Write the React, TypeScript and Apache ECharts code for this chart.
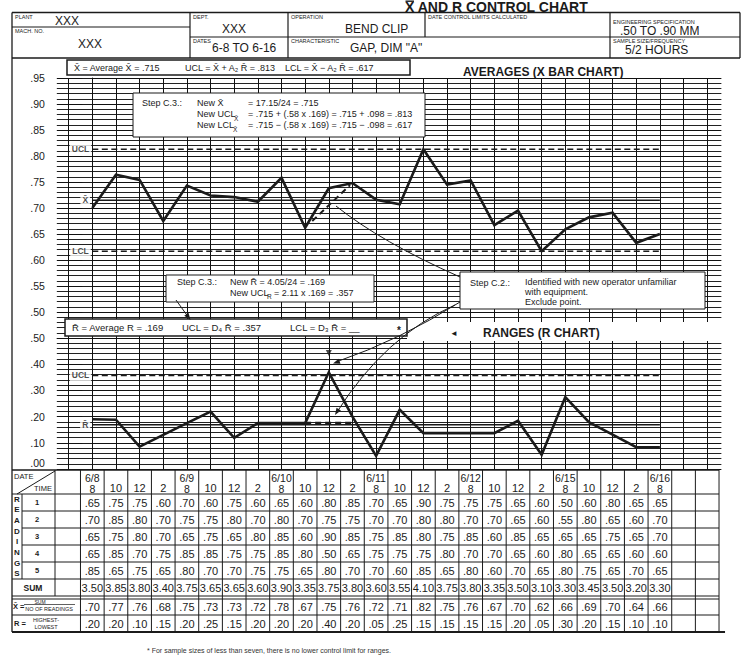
import React, { useEffect, useRef } from 'react';
import * as echarts from 'echarts';

// ---------------- DATA ----------------
const dates = ['6/8', '', '', '', '6/9', '', '', '', '6/10', '', '', '', '6/11', '', '', '', '6/12', '', '', '', '6/15', '', '', '', '6/16'];
const times = ['8', '10', '12', '2', '8', '10', '12', '2', '8', '10', '12', '2', '8', '10', '12', '2', '8', '10', '12', '2', '8', '10', '12', '2', '8'];

const reading1 = [0.65, 0.75, 0.75, 0.60, 0.70, 0.60, 0.75, 0.60, 0.65, 0.60, 0.80, 0.85, 0.70, 0.65, 0.90, 0.75, 0.75, 0.75, 0.65, 0.60, 0.50, 0.60, 0.80, 0.65, 0.65];
const reading2 = [0.70, 0.85, 0.80, 0.70, 0.75, 0.75, 0.80, 0.70, 0.80, 0.70, 0.75, 0.75, 0.70, 0.70, 0.80, 0.80, 0.70, 0.70, 0.65, 0.60, 0.55, 0.80, 0.65, 0.60, 0.70];
const reading3 = [0.65, 0.75, 0.80, 0.70, 0.65, 0.75, 0.65, 0.80, 0.85, 0.60, 0.90, 0.85, 0.75, 0.85, 0.80, 0.75, 0.85, 0.60, 0.85, 0.65, 0.65, 0.65, 0.75, 0.65, 0.70];
const reading4 = [0.65, 0.85, 0.70, 0.75, 0.85, 0.85, 0.75, 0.75, 0.85, 0.80, 0.50, 0.65, 0.75, 0.75, 0.75, 0.80, 0.70, 0.70, 0.65, 0.60, 0.80, 0.65, 0.65, 0.60, 0.60];
const reading5 = [0.85, 0.65, 0.75, 0.65, 0.80, 0.70, 0.70, 0.75, 0.75, 0.65, 0.80, 0.70, 0.70, 0.60, 0.85, 0.65, 0.80, 0.60, 0.70, 0.65, 0.80, 0.75, 0.65, 0.70, 0.65];
const sums = [3.50, 3.85, 3.80, 3.40, 3.75, 3.65, 3.65, 3.60, 3.90, 3.35, 3.75, 3.80, 3.60, 3.55, 4.10, 3.75, 3.80, 3.35, 3.50, 3.10, 3.30, 3.45, 3.50, 3.20, 3.30];
const xbarTable = [0.70, 0.77, 0.76, 0.68, 0.75, 0.73, 0.73, 0.72, 0.78, 0.67, 0.75, 0.76, 0.72, 0.71, 0.82, 0.75, 0.76, 0.67, 0.70, 0.62, 0.66, 0.69, 0.70, 0.64, 0.66];
const rangeTable = [0.20, 0.20, 0.10, 0.15, 0.20, 0.25, 0.15, 0.20, 0.20, 0.20, 0.40, 0.20, 0.05, 0.25, 0.15, 0.15, 0.15, 0.15, 0.20, 0.05, 0.30, 0.20, 0.15, 0.10, 0.10];

// values as plotted (hand drawn) on the chart
const xbarPlotted = [0.700, 0.764, 0.754, 0.675, 0.743, 0.724, 0.721, 0.712, 0.758, 0.662, 0.738, 0.748, 0.716, 0.707, 0.813, 0.745, 0.753, 0.667, 0.695, 0.617, 0.659, 0.682, 0.691, 0.633, 0.650];
const rangePlotted = [0.190, 0.188, 0.085, 0.130, 0.175, 0.219, 0.119, 0.175, 0.175, 0.175, 0.369, 0.200, 0.050, 0.226, 0.137, 0.137, 0.137, 0.137, 0.184, 0.054, 0.274, 0.179, 0.131, 0.083, 0.083];
const xbarExcluded = [[9.3, 0.675], [10.9, 0.744]];
const rangeExcluded = [[9, 0.175], [10.95, 0.175]];
const rangeFlag = [[10, 0.443]];

const XBAR_UCL = 0.813, XBAR_CL = 0.715, XBAR_LCL = 0.617;
const R_UCL = 0.357, R_CL = 0.169;

// ---------------- LAYOUT ----------------
const W = 749, H = 660;
const FONT = '"Liberation Sans", Arial, Helvetica, sans-serif';
const INK = '#1b1b1b';
const N = 25;
const COL0 = 92.3, COLW = 23.65;
const X_MIN = -1.5, X_MAX = 26.6;
const GRID_L = COL0 + COLW * X_MIN;
const GRID_R = COL0 + COLW * X_MAX;
const colCenter = (i: number) => COL0 + COLW * i;
const colLeft = (k: number) => COL0 - COLW / 2 + COLW * k;
const verticalIdx = Array.from({ length: 28 }, (_, k) => k - 1);
const FORM_L = 12;

const fmt2 = (v: number) => v.toFixed(2).replace(/^0/, '');

function txt(text: string, x: number, y: number, size: number, o: any = {}) {
  const align = o.align || 'left';
  const va = o.va || 'middle';
  return {
    type: 'text', x, y, z: o.z ?? 70, silent: true,
    style: {
      text, fontSize: size, fontFamily: FONT, fontWeight: o.bold ? 'bold' : 'normal',
      fill: o.color || INK, align, verticalAlign: va, textAlign: align, textVerticalAlign: va,
    },
  };
}
function ln(x1: number, y1: number, x2: number, y2: number, w = 1, o: any = {}) {
  return { type: 'line', z: o.z ?? 40, silent: true, shape: { x1, y1, x2, y2 }, style: { stroke: o.color || INK, lineWidth: w, lineDash: o.dash } };
}
function box(x: number, y: number, w: number, h: number, o: any = {}) {
  return { type: 'rect', z: o.z ?? 50, silent: true, shape: { x, y, width: w, height: h }, style: { fill: o.fill ?? '#fff', stroke: o.stroke ?? INK, lineWidth: o.lw ?? 1 } };
}
function curve(x1: number, y1: number, cx: number, cy: number, x2: number, y2: number) {
  return { type: 'bezierCurve', z: 60, silent: true, shape: { x1, y1, cpx1: cx, cpy1: cy, x2, y2 }, style: { stroke: INK, lineWidth: 1, fill: 'none' } };
}
function arrowHead(tx: number, ty: number, fx: number, fy: number, len = 7, half = 2.6) {
  const dx = tx - fx, dy = ty - fy;
  const L = Math.hypot(dx, dy);
  const ux = dx / L, uy = dy / L;
  const bx = tx - ux * len, by = ty - uy * len;
  return { type: 'polygon', z: 61, silent: true, shape: { points: [[tx, ty], [bx - uy * half, by + ux * half], [bx + uy * half, by - ux * half]] }, style: { fill: INK } };
}

function buildGraphic() {
  const g: any[] = [];
  // Title (overbar of the X drawn as a short rule)
  g.push(txt('X AND R CONTROL CHART', 405, 7, 14, { bold: true }));
  g.push(ln(405.5, 1.2, 414, 1.2, 1.4, { z: 71 }));
  // Header frame
  g.push(ln(FORM_L, 12.5, 740, 12.5, 1.3));
  g.push(ln(FORM_L, 58, 740, 58, 1.3));
  g.push(ln(740, 12.5, 740, 58, 1.3));
  g.push(ln(190, 12.5, 190, 58, 1.2));
  g.push(ln(288, 12.5, 288, 58, 1.2));
  g.push(ln(425, 12.5, 425, 37, 1.2));
  g.push(ln(610, 12.5, 610, 58, 1.2));
  g.push(ln(FORM_L, 27, 190, 27, 1.2));
  g.push(ln(190, 37, 610, 37, 1.2));
  g.push(ln(610, 37, 740, 37, 1.2));
  // left border of whole form
  g.push(ln(FORM_L, 12.5, FORM_L, 632, 1.3));
  // header texts
  g.push(txt('PLANT', 15, 17, 5.5));
  g.push(txt('XXX', 55, 21, 12));
  g.push(txt('MACH. NO.', 15, 31, 5.5));
  g.push(txt('XXX', 78, 44, 12));
  g.push(txt('DEPT.', 193, 17, 5.5));
  g.push(txt('XXX', 222, 29, 12));
  g.push(txt('DATES', 193, 41, 5.5));
  g.push(txt('6-8 TO 6-16', 212, 48, 12));
  g.push(txt('OPERATION', 291, 17, 5.5));
  g.push(txt('BEND CLIP', 345, 29, 12));
  g.push(txt('CHARACTERISTIC', 291, 41, 5.5));
  g.push(txt('GAP, DIM "A"', 350, 48, 12));
  g.push(txt('DATE CONTROL LIMITS CALCULATED', 428, 17, 5.5));
  g.push(txt('ENGINEERING SPECIFICATION', 613, 22, 5.5));
  g.push(txt('.50 TO .90 MM', 620, 31, 12));
  g.push(txt('SAMPLE SIZE/FREQUENCY', 613, 41, 5.5));
  g.push(txt('5/2 HOURS', 625, 50, 12));

  // X-bar formula box
  g.push(box(67, 60, 343, 15, { lw: 1.5 }));
  g.push(txt('X\u0304 = Average X\u0304 = .715', 74, 67.5, 9));
  g.push(txt('UCL = X\u0304 + A\u2082 R\u0304 = .813', 185, 67.5, 9));
  g.push(txt('LCL = X\u0304 \u2212 A\u2082 R\u0304 = .617', 285, 67.5, 9));
  g.push(txt('AVERAGES (X BAR CHART)', 463, 72, 12, { bold: true }));

  // Step C.3 (X-bar) box
  g.push(box(133, 93, 292, 44));
  g.push(txt('Step C.3.:', 142, 103, 9));
  g.push(txt('New X\u0304', 197, 103, 9));
  g.push(txt('= 17.15/24 = .715', 248, 103, 9));
  g.push(txt('New UCL', 197, 114, 9));
  g.push(txt('X\u0304', 234, 118, 6.5));
  g.push(txt('= .715 + (.58 x .169) = .715 + .098 = .813', 248, 114, 9));
  g.push(txt('New LCL', 197, 125, 9));
  g.push(txt('X\u0304', 233, 129, 6.5));
  g.push(txt('= .715 \u2212 (.58 x .169) = .715 \u2212 .098 = .617', 248, 125, 9));

  // Step C.3 (R) box
  g.push(box(166, 275, 208, 27));
  g.push(txt('Step C.3.:', 177, 282, 9));
  g.push(txt('New R\u0304 = 4.05/24 = .169', 230, 282, 9));
  g.push(txt('New UCL', 230, 293, 9));
  g.push(txt('R', 267, 296, 6.5));
  g.push(txt('= 2.11 x .169 = .357', 274, 293, 9));

  // Step C.2 box
  g.push(box(460, 272, 245, 37));
  g.push(txt('Step C.2.:', 470, 283, 9));
  g.push(txt('Identified with new operator unfamiliar', 525, 282, 9));
  g.push(txt('with equipment.', 525, 292, 9));
  g.push(txt('Exclude point.', 525, 302, 9));

  // R formula box + ranges band
  g.push(box(407, 322, 315, 19, { stroke: 'none', z: 45 }));
  g.push(txt('\u25C4', 450, 333, 8));
  g.push(txt('RANGES (R CHART)', 483, 333, 12, { bold: true }));
  g.push(box(65, 319, 342, 17, { lw: 1.5 }));
  g.push(txt('R\u0304 = Average R = .169', 72, 327.5, 9.5));
  g.push(txt('UCL = D\u2084 R\u0304 = .357', 182, 327.5, 9.5));
  g.push(txt('LCL = D\u2083 R\u0304 = __', 290, 327.5, 9.5));
  g.push(txt('*', 397, 330, 10, { bold: true }));

  // Annotation curves / arrows
  g.push(curve(336, 206, 381, 242, 460, 277));
  g.push(curve(460, 302, 400, 340, 336, 362));
  g.push(arrowHead(333, 363.5, 400, 340));
  g.push(curve(455, 305, 385, 336, 337, 412));
  g.push(arrowHead(335, 415, 385, 336));
  g.push(ln(176, 300, 189, 318, 1, { z: 60 }));
  g.push(arrowHead(190.5, 320, 176, 300));

  // ---------- Table ----------
  const TR = colLeft(27);
  g.push(ln(FORM_L, 470, TR, 470, 1.5));
  g.push(ln(FORM_L, 494, TR, 494, 1.2));
  [511, 528, 545, 562].forEach((y) => g.push(ln(22, y, TR, y, 1)));
  g.push(ln(FORM_L, 579, TR, 579, 1.2));
  g.push(ln(FORM_L, 596, TR, 596, 1.2));
  g.push(ln(FORM_L, 599, TR, 599, 1.2));
  g.push(ln(FORM_L, 615, TR, 615, 1.2));
  g.push(ln(FORM_L, 632, TR + 6, 632, 2));
  for (let k = 0; k <= 27; k++) g.push(ln(colLeft(k), 470, colLeft(k), 632, 1));
  g.push(ln(55, 470, 55, 596, 1));
  g.push(ln(22, 494, 22, 579, 1));
  g.push(ln(17, 494, 55, 471, 1));
  g.push(txt('DATE', 14, 476, 7.5));
  g.push(txt('TIME', 34, 488, 7.5));
  for (let i = 0; i < N; i++) {
    const cx = colCenter(i);
    if (dates[i]) {
      g.push(txt(dates[i], cx, 478, 10.5, { align: 'center' }));
      g.push(txt(times[i], cx, 489, 10.5, { align: 'center' }));
    } else {
      g.push(txt(times[i], cx, 488, 11, { align: 'center' }));
    }
  }
  'READINGS'.split('').forEach((ch, j) => g.push(txt(ch, 17, 499 + j * 10.7, 8, { align: 'center', bold: true })));
  const readingRows = [reading1, reading2, reading3, reading4, reading5];
  const rowCy = [502.5, 519.5, 536.5, 553.5, 570.5];
  readingRows.forEach((row, r) => {
    g.push(txt(String(r + 1), 37, rowCy[r], 7.5, { align: 'center', bold: true }));
    row.forEach((v, i) => g.push(txt(fmt2(v), colCenter(i), rowCy[r], 11, { align: 'center' })));
  });
  g.push(txt('SUM', 33, 587.5, 8.5, { align: 'center', bold: true }));
  sums.forEach((v, i) => g.push(txt(v.toFixed(2), colCenter(i), 587.5, 11, { align: 'center' })));
  g.push(txt('X\u0304 =', 13, 606, 7.5, { bold: true }));
  g.push(txt('SUM', 40, 601.5, 5, { align: 'center' }));
  g.push(ln(24, 604.5, 75, 604.5, 0.7));
  g.push(txt('NO OF READINGS', 49, 609, 5.5, { align: 'center' }));
  xbarTable.forEach((v, i) => g.push(txt(fmt2(v), colCenter(i), 607, 11, { align: 'center' })));
  g.push(txt('R =', 14, 623, 7.5, { bold: true }));
  g.push(txt('HIGHEST-', 46, 619.5, 5.5, { align: 'center' }));
  g.push(txt('LOWEST', 46, 627, 5.5, { align: 'center' }));
  rangeTable.forEach((v, i) => g.push(txt(fmt2(v), colCenter(i), 623.5, 11, { align: 'center' })));
  g.push(txt('* For sample sizes of less than seven, there is no lower control limit for ranges.', 269, 650, 7, { align: 'center', color: '#333' }));
  return g;
}

function yAxisCfg(gi: number, min: number, max: number, interval: number, hideBelow: number) {
  return {
    type: 'value', gridIndex: gi, min, max, interval,
    axisLine: { show: true, lineStyle: { color: INK, width: 1 } },
    axisTick: { show: true, length: 10, lineStyle: { color: INK, width: 1 } },
    axisLabel: {
      margin: 12, fontSize: 10.5, color: INK, fontFamily: FONT,
      formatter: (v: number) => (v < hideBelow ? '' : (Math.abs(v) < 1e-9 ? '{z|' + fmt2(v) + '}' : fmt2(v))),
      rich: { z: { fontSize: 10.5, color: INK, fontFamily: FONT, padding: [0, 0, 12, 0] } },
    },
    splitLine: { show: true, lineStyle: { color: '#111', width: 1 } },
    minorTick: { show: false, splitNumber: 5 },
    minorSplitLine: { show: true, lineStyle: { color: '#222', width: 1 } },
  };
}

function chartSeries(gi: number, values: number[], refs: { y: number; dashed: boolean }[], labels: any[], excluded: number[][], exclWidth: number) {
  const s: any[] = [];
  s.push({
    type: 'line', xAxisIndex: gi, yAxisIndex: gi, data: [], z: 1, silent: true,
    markLine: {
      silent: true, symbol: ['none', 'none'], label: { show: false },
      lineStyle: { color: '#111', width: 1, type: 'solid' },
      data: verticalIdx.map((v) => ({ xAxis: v })),
    },
  });
  refs.forEach((r) => s.push({
    type: 'line', xAxisIndex: gi, yAxisIndex: gi, silent: true, symbol: 'none', z: 3,
    data: [[0, r.y], [N - 1, r.y]],
    lineStyle: { color: INK, width: 1.5, type: r.dashed ? [6, 3.5] : 'solid' },
  }));
  s.push({
    type: 'line', xAxisIndex: gi, yAxisIndex: gi, silent: true, symbol: 'none', z: 5,
    data: values.map((v, i) => [i, v]),
    lineStyle: { color: INK, width: 2.6, join: 'miter' },
  });
  s.push({
    type: 'line', xAxisIndex: gi, yAxisIndex: gi, silent: true, symbol: 'none', z: 5,
    data: excluded,
    lineStyle: { color: INK, width: exclWidth, type: [6, 4] },
  });
  s.push({
    type: 'scatter', xAxisIndex: gi, yAxisIndex: gi, silent: true, symbolSize: 1, z: 6,
    itemStyle: { color: 'rgba(0,0,0,0)' },
    data: labels,
    label: {
      show: true, position: 'inside', formatter: '{b}', fontSize: 8.5, fontWeight: 'bold',
      fontFamily: FONT, color: INK, backgroundColor: '#fff', padding: [1, 2],
    },
  });
  return s;
}

export default function App() {
  const ref = useRef<HTMLDivElement>(null);
  useEffect(() => {
    if (!ref.current) return;
    const chart = echarts.init(ref.current, undefined, { renderer: 'svg' });
    const xAxisCfg = (gi: number) => ({
      type: 'value', gridIndex: gi, min: X_MIN, max: X_MAX,
      axisLine: { show: false }, axisTick: { show: false }, axisLabel: { show: false }, splitLine: { show: false },
    });
    const series = [
      ...chartSeries(0, xbarPlotted,
        [{ y: XBAR_UCL, dashed: true }, { y: XBAR_CL, dashed: false }, { y: XBAR_LCL, dashed: true }],
        [{ name: 'UCL', value: [-0.5, XBAR_UCL] }, { name: 'X\u0304', value: [-0.3, XBAR_CL] }, { name: 'LCL', value: [-0.5, XBAR_LCL] }],
        xbarExcluded, 2),
      ...chartSeries(1, rangePlotted,
        [{ y: R_UCL, dashed: true }, { y: R_CL, dashed: false }],
        [{ name: 'UCL', value: [-0.5, R_UCL] }, { name: 'R\u0304', value: [-0.3, R_CL] }],
        rangeExcluded, 3),
      {
        type: 'scatter', xAxisIndex: 1, yAxisIndex: 1, silent: true, z: 7,
        symbol: 'triangle', symbolRotate: 180, symbolSize: [6, 6],
        itemStyle: { color: INK }, data: rangeFlag,
      },
    ];
    chart.setOption({
      animation: false,
      backgroundColor: '#fff',
      grid: [
        { left: GRID_L, right: W - GRID_R, top: 78, height: 260 },
        { left: GRID_L, right: W - GRID_R, top: 338, height: 131 },
      ],
      xAxis: [xAxisCfg(0), xAxisCfg(1)],
      yAxis: [yAxisCfg(0, 0.45, 0.95, 0.05, 0.475), yAxisCfg(1, 0, 0.5, 0.1, -1)],
      series,
      graphic: { elements: buildGraphic() },
    });
    return () => chart.dispose();
  }, []);
  return <div ref={ref} style={{ position: 'absolute', left: 0, top: 0, width: W, height: H, background: '#fff' }} />;
}
